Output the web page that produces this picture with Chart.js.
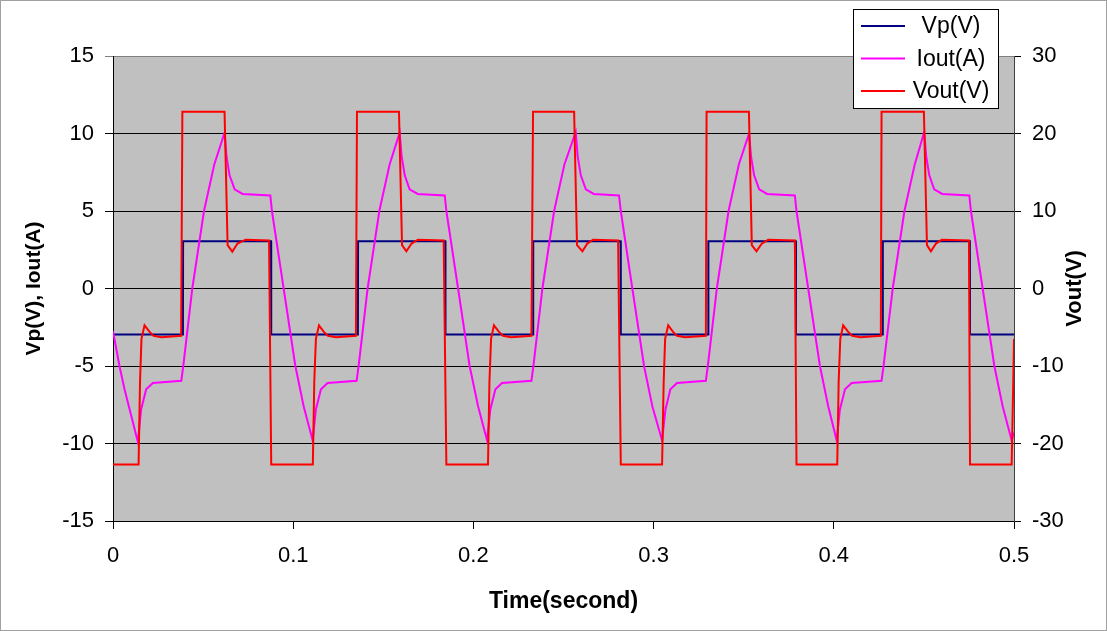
<!DOCTYPE html>
<html>
<head>
<meta charset="utf-8">
<script src="https://cdn.jsdelivr.net/npm/chart.js@4.4.1/dist/chart.umd.min.js"></script>
<style>
  html, body { margin: 0; padding: 0; background: #fff; }
  #wrap { width: 1107px; height: 631px; }
</style>
</head>
<body>
<div id="wrap"><canvas id="chart" width="1107" height="631"></canvas></div>
<script>
// Data (time in seconds)
const seriesNames = ['Vp(V)', 'Iout(A)', 'Vout(V)'];
const seriesColors = ['#000080', '#ff00ff', '#ff0000'];

const timeTicks = [0, 0.1, 0.2, 0.3, 0.4, 0.5];
const leftTicks = [-15, -10, -5, 0, 5, 10, 15];
const rightTicks = [-30, -20, -10, 0, 10, 20, 30];

const vpTime = [0, 0.0388, 0.0389, 0.0877, 0.0878, 0.1359, 0.1360, 0.1844, 0.1845,
  0.2331, 0.2332, 0.2817, 0.2818, 0.3303, 0.3304, 0.3789, 0.3790, 0.4271, 0.4272,
  0.4755, 0.4756, 0.5];
const vpVolts = [-2.97, -2.97, 3.05, 3.05, -2.97, -2.97, 3.05, 3.05, -2.97,
  -2.97, 3.05, 3.05, -2.97, -2.97, 3.05, 3.05, -2.97, -2.97, 3.05,
  3.05, -2.97, -2.97];

const ioutTime = [
  0, 0.0036, 0.0064, 0.0138, 0.0156, 0.0184, 0.0221, 0.0379, 0.0390, 0.0440, 0.0505, 0.0562,
  0.0619, 0.0630, 0.0647, 0.0675, 0.0719, 0.0873, 0.0882, 0.0947, 0.1012, 0.1058, 0.1108,
  0.1126, 0.1154, 0.1191, 0.1352, 0.1363, 0.1413, 0.1478, 0.1535, 0.1591, 0.1602, 0.1619,
  0.1646, 0.1691, 0.1841, 0.1850, 0.1915, 0.1979, 0.2026, 0.2076,
  0.2094, 0.2122, 0.2159, 0.2322, 0.2333, 0.2383, 0.2448, 0.2505, 0.2568, 0.2579, 0.2596,
  0.2624, 0.2668, 0.2808, 0.2818, 0.2882, 0.2947, 0.2993, 0.3047,
  0.3066, 0.3093, 0.3130, 0.3290, 0.3301, 0.3351, 0.3416, 0.3473, 0.3530, 0.3541, 0.3558,
  0.3586, 0.3630, 0.3784, 0.3793, 0.3858, 0.3923, 0.3969, 0.4016,
  0.4034, 0.4062, 0.4099, 0.4265, 0.4276, 0.4327, 0.4392, 0.4449, 0.4502, 0.4513, 0.4530,
  0.4557, 0.4602, 0.4752, 0.4761, 0.4826, 0.4891, 0.4937, 0.4987, 0.5];
const ioutAmps = [
  -2.76, -5.0, -6.5, -9.9, -7.8, -6.5, -6.1, -5.95, -5, 0, 5, 8,
  10.05, 8.5, 7.3, 6.4, 6.1, 6.0, 5.0, 0, -5, -7.6, -9.8,
  -7.8, -6.5, -6.1, -5.95, -5, 0, 5, 8, 10.05, 8.5, 7.3,
  6.4, 6.1, 6.0, 5.0, 0, -5, -7.6, -9.8,
  -7.8, -6.5, -6.1, -5.95, -5, 0, 5, 8, 10.1, 8.5, 7.3,
  6.4, 6.1, 6.0, 5.0, 0, -5, -7.6, -9.8,
  -7.8, -6.5, -6.1, -5.95, -5, 0, 5, 8, 10.0, 8.5, 7.3,
  6.4, 6.1, 6.0, 5.0, 0, -5, -7.6, -9.8,
  -7.8, -6.5, -6.1, -5.95, -5, 0, 5, 8, 10.1, 8.5, 7.3,
  6.4, 6.1, 6.0, 5.0, 0, -5, -7.6, -9.8, -9.3];

const voutTime = [
  0, 0.0142, 0.0150, 0.0158, 0.0175, 0.0203, 0.0225, 0.0269, 0.0378, 0.0385,
  0.0619, 0.0636, 0.0662, 0.0691, 0.0736, 0.0866, 0.0878,
  0.1109, 0.1117, 0.1126, 0.1143, 0.1170, 0.1193, 0.1237, 0.1348, 0.1354,
  0.1587, 0.1604, 0.1628, 0.1657, 0.1692, 0.1835, 0.1850,
  0.2081, 0.2089, 0.2098, 0.2114, 0.2142, 0.2164, 0.2209, 0.2322, 0.2331,
  0.2559, 0.2575, 0.2605, 0.2632, 0.2664, 0.2803, 0.2818,
  0.3047, 0.3056, 0.3064, 0.3081, 0.3108, 0.3130, 0.3175, 0.3290, 0.3294,
  0.3529, 0.3545, 0.3571, 0.3601, 0.3636, 0.3784, 0.3793,
  0.4019, 0.4027, 0.4036, 0.4052, 0.4080, 0.4102, 0.4147, 0.4261, 0.4265,
  0.4500, 0.4517, 0.4539, 0.4567, 0.4599, 0.4750, 0.4756,
  0.4987, 0.4996, 0.5];
const voutVolts = [
  -22.7, -22.7, -12, -6.5, -4.75, -5.6, -6.1, -6.3, -6.1, 22.8,
  22.8, 5.6, 4.75, 5.8, 6.3, 6.2, -22.7,
  -22.7, -12, -6.5, -4.75, -5.6, -6.1, -6.3, -6.1, 22.8,
  22.8, 5.6, 4.8, 5.8, 6.3, 6.2, -22.7,
  -22.7, -12, -6.5, -4.75, -5.6, -6.1, -6.3, -6.1, 22.8,
  22.8, 5.6, 4.8, 5.8, 6.3, 6.2, -22.7,
  -22.7, -12, -6.5, -4.75, -5.6, -6.1, -6.3, -6.1, 22.8,
  22.8, 5.6, 4.8, 5.8, 6.3, 6.2, -22.7,
  -22.7, -12, -6.5, -4.75, -5.6, -6.1, -6.3, -6.1, 22.8,
  22.8, 5.6, 4.8, 5.8, 6.3, 6.2, -22.7,
  -22.7, -12, -6.5];

const FONT = '"Liberation Sans", Arial, sans-serif';

function toPoints(xs, ys) {
  return xs.map((x, i) => ({ x: x, y: ys[i] }));
}

function setTicks(values) {
  return scale => { scale.ticks = values.map(v => ({ value: v })); };
}

// grey plot area, outer frame, boxed legend, right-hand title
const frame = {
  id: 'frame',
  beforeDraw(chart) {
    const { ctx, chartArea: a } = chart;
    ctx.save();
    ctx.fillStyle = '#fff';
    ctx.fillRect(0, 0, chart.width, chart.height);
    ctx.fillStyle = '#c0c0c0';
    ctx.fillRect(a.left, a.top, a.right - a.left, a.bottom - a.top);
    ctx.restore();
  },
  afterDraw(chart) {
    const ctx = chart.ctx;
    ctx.save();
    ctx.strokeStyle = '#a0a0a0';
    ctx.lineWidth = 1;
    ctx.strokeRect(0.5, 0.5, chart.width - 1, chart.height - 1);

    // right axis title reads bottom-to-top like the left one
    const a = chart.chartArea;
    ctx.translate(1075, (a.top + a.bottom) / 2);
    ctx.rotate(-Math.PI / 2);
    ctx.fillStyle = '#000';
    ctx.font = 'bold 22px ' + FONT;
    ctx.textAlign = 'center';
    ctx.textBaseline = 'middle';
    ctx.fillText('Vout(V)', 0, 0);
    ctx.restore();

    // legend box
    ctx.save();
    ctx.fillStyle = '#fff';
    ctx.fillRect(853, 9, 145, 99);
    ctx.strokeStyle = '#000';
    ctx.lineWidth = 1;
    ctx.strokeRect(853.5, 9.5, 145, 99);
    ctx.font = '23px ' + FONT;
    ctx.textAlign = 'center';
    ctx.textBaseline = 'middle';
    chart.data.datasets.forEach((ds, i) => {
      const y = 26 + i * 32.5;
      ctx.strokeStyle = ds.borderColor;
      ctx.lineWidth = 2;
      ctx.beginPath();
      ctx.moveTo(861, y);
      ctx.lineTo(905, y);
      ctx.stroke();
      ctx.fillStyle = '#000';
      ctx.fillText(ds.label, 951, y + 1);
    });
    ctx.restore();
  }
};

new Chart(document.getElementById('chart'), {
  type: 'line',
  data: {
    datasets: [
      { label: seriesNames[0], data: toPoints(vpTime, vpVolts), yAxisID: 'y', borderColor: seriesColors[0], order: 3 },
      { label: seriesNames[1], data: toPoints(ioutTime, ioutAmps), yAxisID: 'y', borderColor: seriesColors[1], order: 2 },
      { label: seriesNames[2], data: toPoints(voutTime, voutVolts), yAxisID: 'y2', borderColor: seriesColors[2], order: 1 }
    ]
  },
  options: {
    responsive: false,
    animation: false,
    devicePixelRatio: 1,
    layout: { padding: { top: 56, left: 0, right: 0, bottom: 0 } },
    elements: {
      point: { radius: 0 },
      line: { borderWidth: 2, tension: 0, fill: false }
    },
    plugins: {
      legend: { display: false },
      tooltip: { enabled: false }
    },
    scales: {
      x: {
        type: 'linear',
        min: 0,
        max: 0.5,
        afterBuildTicks: setTicks(timeTicks),
        afterFit: s => { s.height = 110; },
        grid: { drawOnChartArea: false, tickLength: 8, color: '#000' },
        border: { color: '#000', width: 1 },
        ticks: {
          color: '#000',
          font: { family: FONT, size: 22 },
          padding: 14,
          maxRotation: 0,
          callback: v => String(v)
        },
        title: {
          display: true,
          text: 'Time(second)',
          color: '#000',
          font: { family: FONT, size: 23, weight: 'bold' },
          padding: { top: 0, bottom: 16 }
        }
      },
      y: {
        position: 'left',
        min: -15,
        max: 15,
        afterBuildTicks: setTicks(leftTicks),
        afterFit: s => { s.width = 113; },
        grid: {
          tickLength: 8,
          color: ctx => (ctx.tick && ctx.tick.value === 15 ? '#808080' : '#000')
        },
        border: { color: '#000', width: 1 },
        ticks: {
          color: '#000',
          font: { family: FONT, size: 22 },
          padding: 11,
          callback: v => String(v)
        },
        title: {
          display: true,
          text: 'Vp(V), Iout(A)',
          color: '#000',
          font: { family: FONT, size: 21, weight: 'bold' },
          padding: { top: 22, bottom: 0 }
        }
      },
      y2: {
        position: 'right',
        min: -30,
        max: 30,
        afterBuildTicks: setTicks(rightTicks),
        afterFit: s => { s.width = 93; },
        grid: { drawOnChartArea: false, tickLength: 7, color: '#000' },
        border: { color: '#404040', width: 1 },
        ticks: {
          color: '#000',
          font: { family: FONT, size: 22 },
          padding: 11,
          callback: v => String(v)
        }
      }
    }
  },
  plugins: [frame]
});
</script>
</body>
</html>
